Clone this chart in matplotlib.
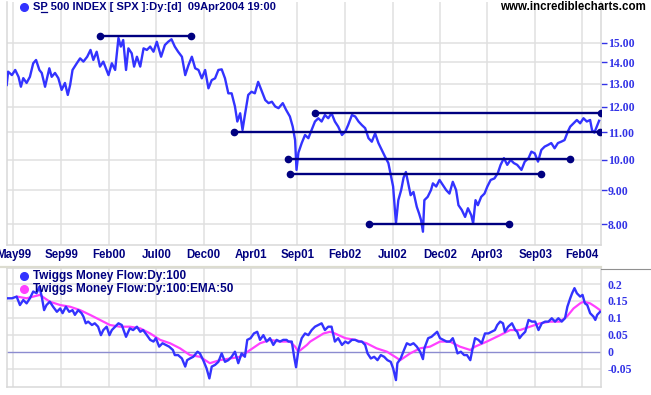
import matplotlib
matplotlib.use("Agg")
import matplotlib.pyplot as plt
from matplotlib.lines import Line2D
from matplotlib.ticker import NullLocator, FixedLocator

# ---------------- data ----------------
# x axis in trading-bar units (0 = first bar on chart)
tick_bars = [14, 115, 215, 316, 416, 515, 614, 715, 815, 915, 1015, 1116, 1215]
tick_labels = ["May99", "Sep99", "Feb00", "Jul00", "Dec00", "Apr01", "Sep01",
               "Feb02", "Jul02", "Dec02", "Apr03", "Sep03", "Feb04"]

price_bar = [0, 3, 11, 18, 25, 30, 35, 42, 49, 56, 62, 69, 74, 81, 90, 95, 102, 109, 116, 123,
             129, 134, 139, 148, 155, 162, 170, 177, 183, 190, 197, 204, 215, 222, 229, 236, 241,
             246, 252, 257, 264, 269, 275, 282, 289, 296, 303, 310, 317, 326, 334, 341, 348, 355,
             362, 370, 377, 384, 391, 398, 405, 412, 419, 426, 433, 440, 447, 454, 461, 468, 475,
             482, 487, 493, 498, 503, 510, 517, 524, 531, 539, 546, 553, 560, 567, 574, 583, 590,
             598, 604, 609, 612, 616, 623, 630, 637, 644, 651, 658, 665, 672, 679, 686, 693, 700,
             708, 715, 721, 729, 736, 743, 750, 757, 764, 771, 778, 785, 792, 799, 806, 811, 816,
             822, 827, 833, 838, 843, 848, 853, 859, 866, 871, 875, 879, 882, 889, 896, 900, 907,
             914, 921, 928, 935, 942, 949, 954, 961, 968, 974, 981, 985, 990, 995, 1002, 1009,
             1015, 1022, 1030, 1037, 1043, 1050, 1057, 1064, 1071, 1078, 1087, 1094, 1102, 1108,
             1115, 1122, 1129, 1136, 1143, 1150, 1157, 1164, 1171, 1178, 1185, 1190, 1197, 1204,
             1211, 1218, 1225, 1232, 1236, 1241, 1246, 1251]
price_val = [12.95, 13.56, 13.40, 13.64, 13.32, 12.87, 13.26, 13.04, 13.32, 13.96, 14.12, 13.64,
             13.50, 12.87, 13.72, 13.32, 13.50, 13.26, 12.73, 13.04, 12.51, 12.95, 13.64, 13.96,
             14.20, 14.04, 14.28, 14.62, 14.12, 14.53, 13.80, 14.04, 13.40, 13.96, 13.64, 15.24,
             14.79, 15.13, 13.64, 14.70, 14.45, 13.80, 14.28, 13.80, 14.70, 14.62, 14.79, 14.53,
             15.04, 14.28, 14.87, 15.04, 15.17, 14.79, 14.53, 14.28, 13.40, 13.88, 14.28, 13.72,
             13.64, 13.25, 13.64, 12.80, 13.17, 13.25, 13.64, 13.67, 13.25, 12.58, 12.58, 12.02,
             11.41, 11.74, 11.08, 11.67, 12.51, 12.65, 12.58, 13.09, 12.65, 12.29, 12.16, 12.22,
             12.02, 11.95, 12.16, 11.88, 11.61, 11.21, 10.70, 9.65, 10.24, 10.59, 10.89, 10.77,
             11.08, 11.41, 11.54, 11.41, 11.67, 11.54, 11.74, 11.41, 11.21, 10.89, 11.02, 11.27,
             11.67, 11.61, 11.41, 11.27, 11.15, 10.77, 10.64, 10.95, 10.59, 10.34, 10.10, 9.88,
             9.48, 9.11, 8.02, 8.69, 9.00, 9.39, 9.58, 9.21, 8.84, 8.94, 8.49, 8.29, 8.11, 7.79,
             8.69, 8.79, 9.00, 9.21, 9.11, 9.32, 9.16, 9.00, 8.89, 9.26, 9.00, 8.54, 8.40, 8.20,
             8.45, 8.25, 8.02, 8.69, 8.54, 8.79, 8.89, 9.11, 9.32, 9.37, 9.54, 9.82, 10.05, 9.82,
             9.99, 9.88, 9.82, 9.65, 9.93, 10.05, 10.28, 10.22, 9.93, 10.34, 10.46, 10.52, 10.59,
             10.40, 10.59, 10.64, 10.70, 11.02, 11.21, 11.34, 11.47, 11.34, 11.54, 11.41, 11.47,
             11.08, 10.98, 11.21, 11.44]

# support / resistance lines: level, start bar, end bar
line_level = [15.35, 11.76, 11.01, 10.01, 9.50, 7.99]
line_start = [197, 652, 479, 593, 598, 766]
line_end = [390, 1254, 1253, 1190, 1129, 1060]

mf_bar = [0, 11, 21, 28, 35, 42, 49, 56, 63, 69, 74, 79, 84, 91, 98, 106, 113, 118, 125, 132,
          139, 144, 151, 158, 162, 167, 172, 180, 186, 193, 199, 204, 211, 217, 222, 229, 236,
          243, 252, 260, 267, 275, 282, 288, 296, 303, 310, 315, 322, 329, 336, 343, 351, 355,
          362, 370, 377, 381, 387, 394, 403, 408, 415, 422, 428, 433, 440, 447, 454, 461, 468,
          475, 482, 489, 496, 503, 508, 515, 522, 529, 535, 542, 549, 556, 563, 570, 577, 584,
          591, 595, 602, 607, 611, 616, 623, 630, 637, 644, 651, 658, 665, 672, 679, 686, 693,
          700, 708, 715, 721, 729, 736, 743, 750, 757, 762, 769, 776, 783, 790, 797, 804, 811,
          816, 822, 825, 832, 839, 845, 852, 859, 866, 873, 879, 882, 890, 897, 905, 909, 915,
          922, 929, 936, 942, 947, 952, 959, 966, 972, 979, 984, 989, 996, 1003, 1010, 1017,
          1024, 1031, 1036, 1042, 1048, 1052, 1059, 1067, 1074, 1078, 1083, 1088, 1095, 1102,
          1109, 1116, 1123, 1130, 1137, 1144, 1151, 1158, 1165, 1172, 1179, 1184, 1190, 1194,
          1199, 1204, 1211, 1216, 1221, 1226, 1232, 1239, 1243, 1247, 1253]
mf_val = [0.158, 0.158, 0.163, 0.138, 0.153, 0.143, 0.158, 0.178, 0.173, 0.192, 0.163, 0.123,
          0.138, 0.148, 0.133, 0.118, 0.128, 0.114, 0.133, 0.118, 0.123, 0.109, 0.123, 0.114,
          0.104, 0.084, 0.089, 0.079, 0.084, 0.074, 0.049, 0.064, 0.074, 0.049, 0.064, 0.074,
          0.084, 0.079, 0.044, 0.069, 0.064, 0.074, 0.059, 0.064, 0.049, 0.035, 0.030, 0.040,
          0.015, 0.025, 0.020, 0.015, 0.005, -0.010, -0.010, -0.020, -0.044, -0.025, -0.020,
          -0.015, 0.0, -0.005, -0.025, -0.049, -0.079, -0.044, -0.039, -0.030, -0.005, -0.030,
          -0.025, -0.015, 0.0, -0.034, -0.005, -0.015, 0.035, 0.040, 0.054, 0.059, 0.035, 0.049,
          0.030, 0.040, 0.020, 0.035, 0.030, 0.035, 0.035, 0.030, 0.030, -0.015, -0.046, 0.005,
          0.040, 0.054, 0.049, 0.064, 0.074, 0.079, 0.084, 0.064, 0.074, 0.074, 0.030, 0.040,
          0.020, 0.030, 0.025, 0.035, 0.035, 0.030, 0.030, 0.020, -0.005, -0.020, -0.015, -0.025,
          -0.010, -0.015, -0.025, -0.030, -0.049, -0.084, -0.034, -0.020, 0.005, 0.025, 0.020,
          0.025, 0.015, 0.0, -0.022, 0.010, 0.040, 0.044, 0.054, 0.059, 0.040, 0.035, 0.030,
          0.030, 0.040, 0.020, -0.005, 0.0, -0.010, -0.010, -0.025, 0.010, 0.040, 0.035, 0.025,
          0.054, 0.054, 0.059, 0.064, 0.079, 0.089, 0.084, 0.059, 0.074, 0.084, 0.064, 0.059,
          0.040, 0.049, 0.059, 0.094, 0.089, 0.089, 0.064, 0.084, 0.089, 0.089, 0.099, 0.089,
          0.099, 0.089, 0.099, 0.133, 0.158, 0.173, 0.188, 0.173, 0.163, 0.168, 0.143, 0.138,
          0.114, 0.104, 0.094, 0.109, 0.118]

ema_bar = [22, 42, 56, 70, 91, 113, 134, 155, 176, 197, 218, 239, 260, 282, 303, 324, 345, 366,
           387, 408, 429, 450, 472, 493, 514, 535, 556, 577, 598, 609, 616, 634, 641, 669, 683,
           693, 715, 736, 760, 781, 803, 820, 831, 852, 873, 894, 915, 936, 957, 979, 989, 1014,
           1042, 1063, 1084, 1105, 1126, 1147, 1168, 1183, 1197, 1211, 1218, 1232, 1243, 1253]
ema_val = [0.163, 0.158, 0.163, 0.168, 0.148, 0.138, 0.133, 0.123, 0.109, 0.094, 0.079, 0.074,
           0.074, 0.069, 0.054, 0.035, 0.025, 0.010, -0.010, -0.015, -0.034, -0.025, -0.020,
           -0.015, 0.005, 0.025, 0.035, 0.030, 0.030, 0.015, 0.0, 0.020, 0.030, 0.054, 0.059,
           0.054, 0.040, 0.035, 0.025, 0.010, 0.0, -0.015, -0.025, -0.005, 0.010, 0.015, 0.030,
           0.030, 0.015, 0.005, 0.015, 0.030, 0.049, 0.064, 0.064, 0.074, 0.084, 0.089, 0.089,
           0.104, 0.128, 0.143, 0.148, 0.143, 0.133, 0.123]

price_ticks = [8, 9, 10, 11, 12, 13, 14, 15]
mf_ticks = [-0.05, 0, 0.05, 0.1, 0.15, 0.2]
mf_tick_labels = ["-0.05", "0", "0.05", "0.1", "0.15", "0.2"]

title_text = "SP 500 INDEX [ SPX ]:Dy:[d]  09Apr2004 19:00"
site_text = "www.incrediblecharts.com"
legend1 = "Twiggs Money Flow:Dy:100"
legend2 = "Twiggs Money Flow:Dy:100:EMA:50"

# ---------------- style ----------------
W, H = 651, 395
BLUE = "#3333ff"
NAVY = "#000080"
LBLUE = "#3333e6"
MAG = "#ff40ff"
GRID = "#e0e0e0"
SANS = ["Liberation Sans", "DejaVu Sans"]
SERIF = ["Liberation Serif", "DejaVu Serif"]

fig = plt.figure(figsize=(W / 100, H / 100), dpi=100)
fig.patch.set_facecolor("white")

def fx(px):
    return px / W

def fy(py):
    return 1 - py / H

left_px, right_px = 6.7, 601.0
ax1 = fig.add_axes([fx(left_px), fy(245), fx(right_px - left_px), (245 - 2) / H])
ax2 = fig.add_axes([fx(left_px), fy(387), fx(right_px - left_px), (387 - 268) / H])

for ax in (ax1, ax2):
    ax.set_xlim(0, 1255)
    ax.set_facecolor("white")
    for s in ax.spines.values():
        s.set_color("#d8d8d8")
        s.set_linewidth(1.1)
    ax.xaxis.set_major_locator(FixedLocator(tick_bars))
    ax.grid(True, color=GRID, linewidth=1.1)
    ax.set_axisbelow(True)
    ax.yaxis.tick_right()
ax1.spines["top"].set_visible(False)

# ---- top panel ----
ax1.set_yscale("log")
ax1.set_ylim(7.44, 17.26)
ax1.yaxis.set_major_locator(FixedLocator(price_ticks))
ax1.yaxis.set_minor_locator(NullLocator())
ax1.set_yticklabels(["%.2f" % v for v in price_ticks])
ax1.set_xticklabels(tick_labels)
ax1.tick_params(axis="x", length=0, pad=3, labelcolor=NAVY, labelsize=8.3)
ax1.tick_params(axis="y", which="major", length=4, width=1, color=LBLUE, pad=1,
                labelcolor=LBLUE, labelsize=8.5)
for lab in ax1.get_xticklabels():
    lab.set_fontfamily(SANS)
    lab.set_fontweight("bold")
for lab in ax1.get_yticklabels():
    lab.set_fontfamily(SERIF)
    lab.set_fontweight("bold")

ax1.plot(price_bar, price_val, color=BLUE, lw=1.7, zorder=3)
for lv, x0, x1 in zip(line_level, line_start, line_end):
    ax1.plot([x0, x1], [lv, lv], color=NAVY, lw=1.7, marker="o", ms=4.5, zorder=4,
             solid_capstyle="butt")

# ---- bottom panel ----
ax2.set_ylim(-0.1044, 0.2476)
ax2.yaxis.set_major_locator(FixedLocator(mf_ticks))
ax2.set_yticklabels(mf_tick_labels)
ax2.set_xticklabels([])
ax2.tick_params(axis="x", length=0)
ax2.tick_params(axis="y", length=0, pad=5, labelcolor=LBLUE, labelsize=8.5)
for lab in ax2.get_yticklabels():
    lab.set_fontfamily(SERIF)
    lab.set_fontweight("bold")
for gl, v in zip(ax2.get_ygridlines(), mf_ticks):
    if v == 0:
        gl.set_visible(False)
ax2.axhline(0, color="#8c8cd0", lw=1.0, zorder=1)
ax2.plot(ema_bar, ema_val, color=MAG, lw=1.6, zorder=3)
ax2.plot(mf_bar, mf_val, color=BLUE, lw=1.7, zorder=4)

# ---- texts ----
def dot(px, py, color):
    fig.add_artist(Line2D([fx(px)], [fy(py)], marker="o", ms=5.5, color=color,
                          transform=fig.transFigure, linestyle="none"))

dot(24, 6.7, BLUE)
fig.text(fx(33), fy(6.7), title_text, color=NAVY, fontsize=8, fontweight="bold",
         family=SANS, va="center", ha="left")
# underline under the "P" of "SP"
fig.add_artist(Line2D([fx(41), fx(47)], [fy(12), fy(12)], color=NAVY, lw=0.9,
                      transform=fig.transFigure))
fig.text(fx(646), fy(7), site_text, color="black", fontsize=8.3, fontweight="bold",
         family=SANS, va="center", ha="right")

dot(24, 275.7, BLUE)
fig.text(fx(33), fy(275.7), legend1, color=NAVY, fontsize=8.5, fontweight="bold",
         family=SANS, va="center", ha="left")
dot(24, 289.3, MAG)
fig.text(fx(33), fy(289.3), legend2, color=NAVY, fontsize=8.5, fontweight="bold",
         family=SANS, va="center", ha="left")

# separator between panels
fig.add_artist(Line2D([0, fx(601)], [fy(267.3), fy(267.3)], color="#dcdcd0", lw=1.6,
                      transform=fig.transFigure))
fig.add_artist(Line2D([fx(601), 1], [fy(268.5), fy(268.5)], color="#909090", lw=0.8,
                      transform=fig.transFigure))

fig.savefig("out.png", dpi=100, facecolor="white")
